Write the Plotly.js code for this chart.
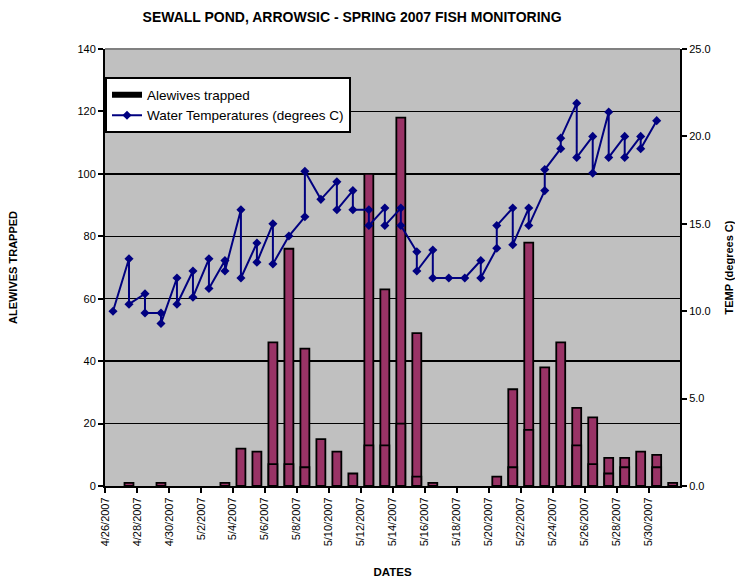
<!DOCTYPE html>
<html>
<head>
<meta charset="utf-8">
<script src="https://cdn.plot.ly/plotly-3.0.1.min.js"></script>
<style>html,body{margin:0;padding:0;background:#fff;}#chart{width:735px;height:579px;}</style>
</head>
<body>
<div id="chart"></div>
<script>
// Alewives trapped (daily catch, tallest value per date)
const barDates = ['2007-04-27','2007-04-29','2007-05-03','2007-05-04','2007-05-05','2007-05-06','2007-05-07','2007-05-08','2007-05-09','2007-05-10','2007-05-11','2007-05-12','2007-05-13','2007-05-14','2007-05-15','2007-05-16','2007-05-20','2007-05-21','2007-05-22','2007-05-23','2007-05-24','2007-05-25','2007-05-26','2007-05-27','2007-05-28','2007-05-29','2007-05-30','2007-05-31'];
const alewives = [1,1,1,12,11,46,76,44,15,11,4,100,63,118,49,1,3,31,78,38,46,25,22,9,9,11,10,1];
// Second count recorded on the same date (drawn overlapping)
const barDates2 = ['2007-05-06','2007-05-07','2007-05-08','2007-05-12','2007-05-13','2007-05-14','2007-05-15','2007-05-21','2007-05-22','2007-05-25','2007-05-26','2007-05-27','2007-05-28','2007-05-30'];
const alewives2 = [7,7,6,13,13,20,3,6,18,13,7,4,6,6];
// Water temperatures (degrees C), several readings per date
const tempDates = ['2007-04-26',
 '2007-04-27','2007-04-27','2007-04-28','2007-04-28','2007-04-29','2007-04-29','2007-04-30','2007-04-30',
 '2007-05-01','2007-05-01','2007-05-02','2007-05-02','2007-05-03','2007-05-03','2007-05-04','2007-05-04',
 '2007-05-05','2007-05-05','2007-05-06','2007-05-06','2007-05-07','2007-05-08','2007-05-08','2007-05-09',
 '2007-05-10','2007-05-10','2007-05-11','2007-05-11','2007-05-12','2007-05-12','2007-05-13','2007-05-13',
 '2007-05-14','2007-05-14','2007-05-15','2007-05-15','2007-05-16','2007-05-16','2007-05-17','2007-05-18',
 '2007-05-19','2007-05-19','2007-05-20','2007-05-20','2007-05-21','2007-05-21','2007-05-22','2007-05-22',
 '2007-05-23','2007-05-23','2007-05-24','2007-05-24','2007-05-25','2007-05-25','2007-05-26','2007-05-26',
 '2007-05-27','2007-05-27','2007-05-28','2007-05-28','2007-05-29','2007-05-29','2007-05-30'];
const temps = [10.0,
 13.0,10.4,11.0,9.9,9.9,9.3,11.9,10.4,
 12.3,10.8,13.0,11.3,12.9,12.3,15.8,11.9,
 13.9,12.8,15.0,12.7,14.3,15.4,18.0,16.4,
 17.4,15.8,16.9,15.8,15.8,14.9,15.9,14.9,
 15.9,14.9,13.4,12.3,13.5,11.9,11.9,11.9,
 12.9,11.9,13.6,14.9,15.9,13.8,15.9,14.9,
 16.9,18.1,19.3,19.9,21.9,18.8,20.0,17.9,
 21.4,18.8,20.0,18.8,20.0,19.3,20.9];
const seriesNames = ['Alewives trapped','Water Temperatures (degrees C)'];

const DAY = 86400000;
const FONT = 'Liberation Sans, Arial, sans-serif';
const barStyle = {color:'#993366', line:{color:'#000000', width:1.8}};

const traces = [
  {type:'bar', x:barDates, y:alewives, xperiod:DAY, xperiodalignment:'middle',
   width:0.56*DAY, marker:barStyle, showlegend:false, yaxis:'y', xaxis:'x'},
  {type:'bar', x:barDates2, y:alewives2, xperiod:DAY, xperiodalignment:'middle',
   width:0.56*DAY, marker:barStyle, showlegend:false, yaxis:'y', xaxis:'x'},
  {type:'scatter', mode:'lines', x:[null], y:[null], name:seriesNames[0],
   line:{color:'#000000', width:6}, yaxis:'y', xaxis:'x', hoverinfo:'skip'},
  {type:'scatter', mode:'lines+markers', x:tempDates, y:temps, name:seriesNames[1],
   xperiod:DAY, xperiodalignment:'middle',
   line:{color:'#000080', width:2}, marker:{symbol:'diamond', size:7, color:'#000080'},
   yaxis:'y2', xaxis:'x'}
];

const layout = {
  width:735, height:579,
  margin:{l:105, r:55, t:49, b:93},
  paper_bgcolor:'#ffffff', plot_bgcolor:'#C0C0C0',
  font:{family:FONT, color:'#000000', size:11},
  barmode:'overlay',
  title:{text:'<b>SEWALL POND, ARROWSIC - SPRING 2007 FISH MONITORING</b>',
    font:{family:FONT, size:14, color:'#000000'}, x:0.479, xanchor:'center', y:0.971, yanchor:'middle'},
  xaxis:{type:'date', range:['2007-04-26','2007-05-31 23:00'], tick0:'2007-04-26', dtick:2*DAY,
    tickformat:'%-m/%-d/%Y', tickangle:-90, ticks:'outside', ticklen:5, tickwidth:2, tickcolor:'#000',
    showline:true, linecolor:'#000', linewidth:2, showgrid:false, zeroline:false,
    tickfont:{family:FONT, size:11},
    title:{text:'<b>DATES</b>', font:{family:FONT, size:11.5}, standoff:23}},
  yaxis:{range:[0,140], dtick:20, showgrid:true, gridcolor:'#000', gridwidth:1.5,
    showline:true, linecolor:'#000', linewidth:2, ticks:'outside', ticklen:5, tickwidth:2, tickcolor:'#000',
    zeroline:false, tickfont:{family:FONT, size:11},
    title:{text:'<b>ALEWIVES TRAPPED</b>', font:{family:FONT, size:11}, standoff:58}},
  yaxis2:{range:[0,25], dtick:5, tickformat:'.1f', overlaying:'y', side:'right', showgrid:false,
    showline:true, linecolor:'#000', linewidth:2, ticks:'outside', ticklen:5, tickwidth:2, tickcolor:'#000',
    zeroline:false, tickfont:{family:FONT, size:11},
    title:{text:'<b>TEMP (degrees C)</b>', font:{family:FONT, size:11}, standoff:16}},
  legend:{x:0, y:0.935, xanchor:'left', yanchor:'top', bgcolor:'#ffffff', bordercolor:'#000',
    borderwidth:2, font:{family:FONT, size:13.5}, tracegroupgap:0, itemwidth:30},
  shapes:[{type:'line', xref:'paper', yref:'paper', x0:0, x1:1, y0:1, y1:1,
    line:{color:'#808080', width:2}}],
  showlegend:true
};

Plotly.newPlot('chart', traces, layout, {displayModeBar:false, staticPlot:true});
</script>
</body>
</html>
